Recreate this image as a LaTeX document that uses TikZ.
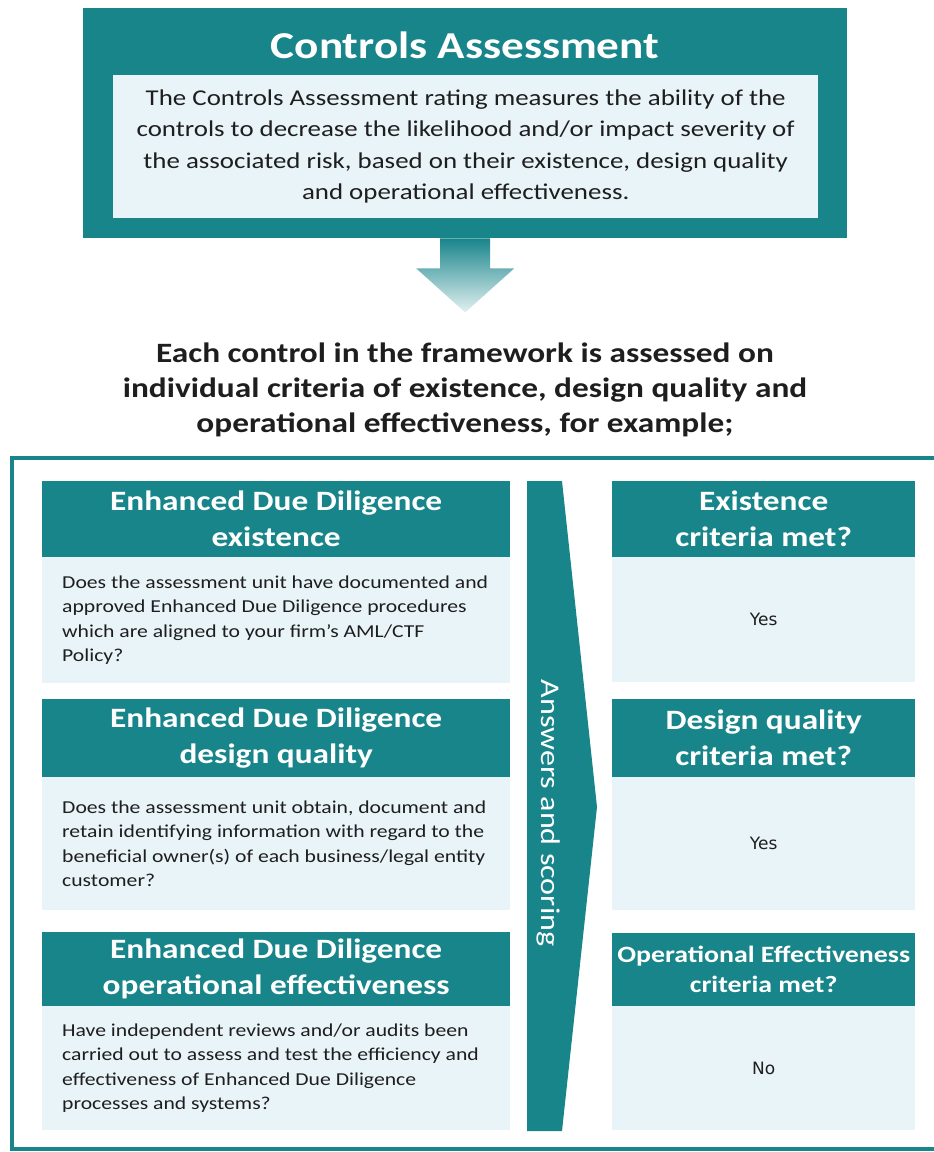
\documentclass[tikz,border=0pt]{standalone}
\usepackage{fontspec}
\setmainfont{Carlito}[FakeStretch=1.19]
\newfontfamily\answerfont{DejaVu Sans}
\usetikzlibrary{calc}

\definecolor{brandteal}{RGB}{24,133,139}
\definecolor{lightfill}{RGB}{233,244,249}
\definecolor{inkdark}{RGB}{30,30,30}

\begin{document}
\begin{tikzpicture}[x=1pt,y=-1pt,
  panel/.style={fill=brandteal, inner sep=0pt, anchor=north west},
  pale/.style={fill=lightfill, inner sep=0pt, anchor=north west},
  hdr/.style={fill=brandteal, text=white, inner sep=0pt, anchor=north west,
    align=center, font=\fontsize{28}{36}\selectfont\bfseries},
  smallhdr/.style={hdr, font=\fontsize{23.4}{30}\selectfont\bfseries},
  qbody/.style={fill=lightfill, inner sep=0pt, anchor=north west,
    font=\answerfont\fontsize{17}{20}\selectfont, text=inkdark},
  qtext/.style={anchor=west, align=left, inner sep=0pt, text=inkdark,
    font=\fontsize{18.2}{24.3}\selectfont},
]
\useasboundingbox (0,0) rectangle (934,1152);

% ---- headline panel ----
\node[panel, minimum width=764pt, minimum height=230pt] (top) at (83,8) {};
\node[pale, minimum width=705pt, minimum height=143pt] (topinner) at (113,75) {};
\node[text=white, inner sep=0pt, font=\fontsize{38}{40}\selectfont\bfseries]
  (title) at (465,45) {Controls Assessment};
\node[align=center, inner sep=0pt, text=inkdark, font=\fontsize{22.6}{31.5}\selectfont]
  (desc) at (topinner.center)
  {The Controls Assessment rating measures the ability of the\\
   controls to decrease the likelihood and/or impact severity of\\
   the associated risk, based on their existence, design quality\\
   and operational effectiveness.};

% ---- downward block arrow ----
\shade[top color=brandteal, middle color=brandteal!85, bottom color=brandteal!12]
  ($(top.south)+(-25,0)$) -- ($(top.south)+(25,0)$) -- ($(top.south)+(25,30)$)
  -- ($(top.south)+(49,30)$) -- ($(top.south)+(0,74)$) -- ($(top.south)+(-49,30)$)
  -- ($(top.south)+(-25,30)$) -- cycle;

% ---- lead-in text ----
\node[align=center, inner sep=0pt, text=inkdark, font=\fontsize{28}{35}\selectfont\bfseries]
  (lead) at (465,390)
  {Each control in the framework is assessed on\\
   individual criteria of existence, design quality and\\
   operational effectiveness, for example;};

% ---- framing bracket (open to the right) ----
\draw[brandteal, line width=4pt] (934,458) -- (12,458) -- (12,1149) -- (934,1149);

% ---- left column: criteria ----
\node[hdr, minimum width=468pt, minimum height=76pt] (h1) at (42,481)
  {Enhanced Due Diligence\\existence};
\node[pale, minimum width=468pt, minimum height=126pt] (b1) at (42,557) {};
\node[qtext] (q1) at ([xshift=20pt]b1.west)
  {Does the assessment unit have documented and\\
   approved Enhanced Due Diligence procedures\\
   which are aligned to your firm’s AML/CTF\\
   Policy?};

\node[hdr, minimum width=468pt, minimum height=78pt] (h2) at (42,699)
  {Enhanced Due Diligence\\design quality};
\node[pale, minimum width=468pt, minimum height=133pt] (b2) at (42,777) {};
\node[qtext] (q2) at ([xshift=20pt]b2.west)
  {Does the assessment unit obtain, document and\\
   retain identifying information with regard to the\\
   beneficial owner(s) of each business/legal entity\\
   customer?};

\node[hdr, minimum width=468pt, minimum height=74pt] (h3) at (42,932)
  {Enhanced Due Diligence\\operational effectiveness};
\node[pale, minimum width=468pt, minimum height=124pt] (b3) at (42,1006) {};
\node[qtext] (q3) at ([xshift=20pt]b3.west)
  {Have independent reviews and/or audits been\\
   carried out to assess and test the efficiency and\\
   effectiveness of Enhanced Due Diligence\\
   processes and systems?};

% ---- chevron band ----
\fill[brandteal] (527,481) -- (562,481) -- (597,807) -- (562,1131) -- (527,1131) -- cycle;
\node[rotate=-90, text=white, inner sep=0pt, font=\fontsize{27}{30}\selectfont]
  (flow) at (549,813) {Answers and scoring};

% ---- right column: outcomes ----
\node[hdr, minimum width=303pt, minimum height=76pt] (r1) at (612,481)
  {Existence\\criteria met?};
\node[qbody, minimum width=303pt, minimum height=125pt] (a1) at (612,557) {Yes};

\node[hdr, minimum width=303pt, minimum height=78pt] (r2) at (612,699)
  {Design quality\\criteria met?};
\node[qbody, minimum width=303pt, minimum height=133pt] (a2) at (612,777) {Yes};

\node[smallhdr, minimum width=303pt, minimum height=73pt] (r3) at (612,933)
  {Operational Effectiveness\\criteria met?};
\node[qbody, minimum width=303pt, minimum height=124pt] (a3) at (612,1006) {No};
\end{tikzpicture}
\end{document}
